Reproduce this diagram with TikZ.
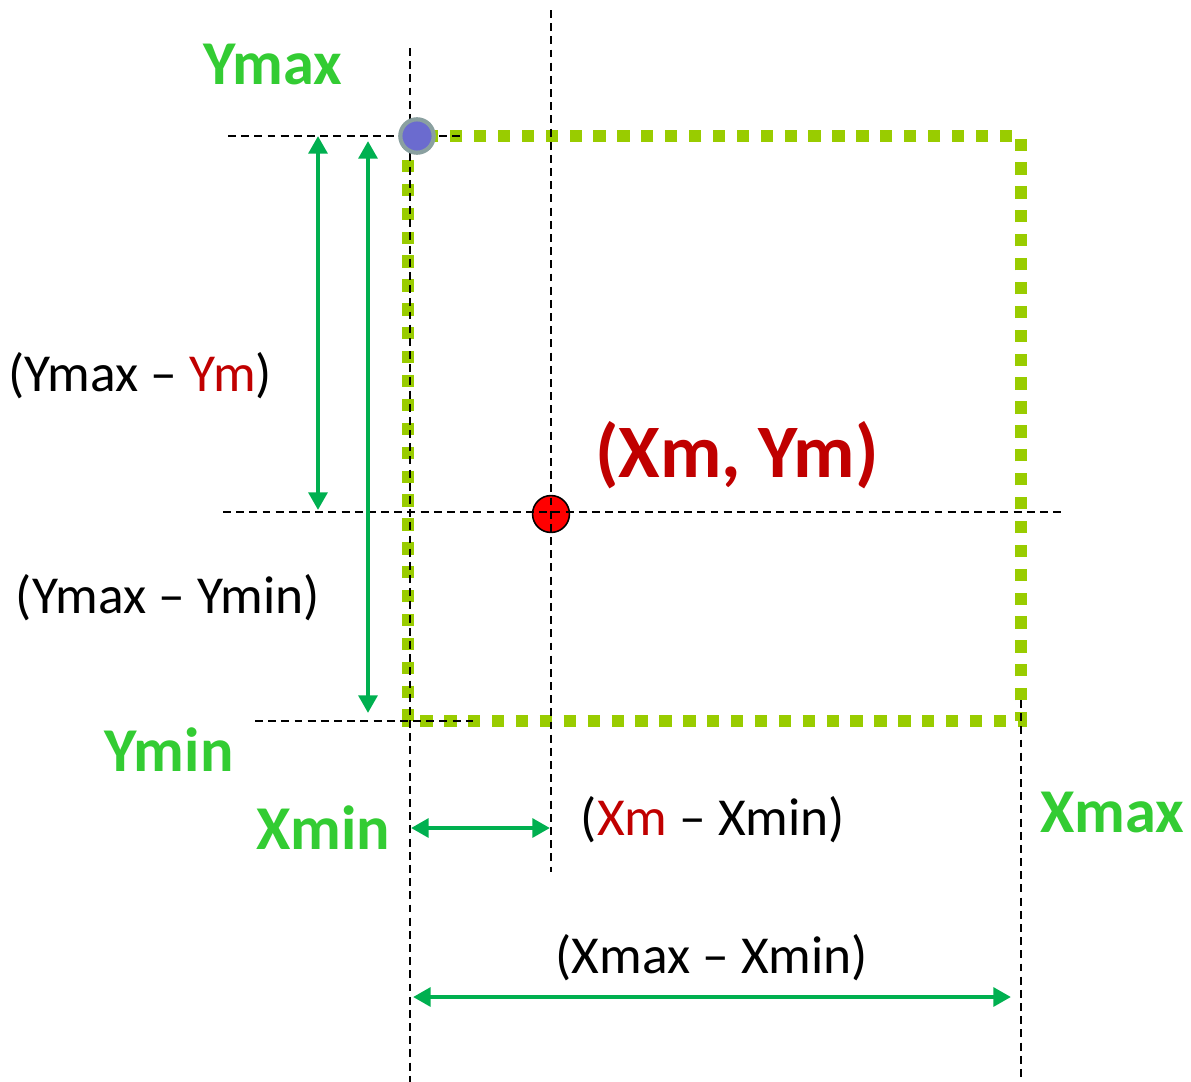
\documentclass[tikz,border=0pt]{standalone}
\usepackage{fontspec}
\setmainfont{Carlito}
\usepackage{xcolor}
\usepackage{tikz}
\usetikzlibrary{arrows.meta}
\definecolor{Bound}{RGB}{153, 204, 0}
\definecolor{LimitText}{RGB}{51, 204, 51}
\definecolor{Measure}{RGB}{0, 176, 80}
\definecolor{Centre}{RGB}{192, 0, 0}
\definecolor{CornerFill}{RGB}{107, 107, 207}
\definecolor{CornerRing}{RGB}{138, 160, 160}

\begin{document}
\begin{tikzpicture}[
    x=0.02cm, y=-0.02cm,
    box/.style={Bound, line width=7pt, dash pattern=on 7pt off 6.6pt},
    guide/.style={black, line width=0.9pt, dash pattern=on 4.5pt off 3pt},
    measure/.style={{Triangle[length=10pt, width=10.5pt]}-{Triangle[length=10pt, width=10.5pt]}, Measure, line width=2.8pt},
    limit/.style={font=\fontsize{35.5}{42}\selectfont\bfseries, text=LimitText, inner sep=0pt},
    diff/.style={font=\fontsize{30.4}{36}\selectfont, text=black, inner sep=0pt},
    topleft/.style={circle, fill=CornerFill, draw=CornerRing, line width=2.4pt, minimum size=19pt, inner sep=0pt},
    midpt/.style={circle, fill=red, draw=black, line width=0.9pt, minimum size=21pt, inner sep=0pt},
]
\useasboundingbox (0,0) rectangle (1191,1082);

% bounding box
\draw[box] (408,136) rectangle (1021,721);

\node[midpt] (mid) at (551,514) {};

% guide lines
\draw[guide] (410,48) -- (410,1082);
\draw[guide] (551,10) -- (551,872);
\draw[guide] (1021,700) -- (1021,1082);
\draw[guide] (228,136) -- (465,136);
\draw[guide] (223,512) -- (1065,512);
\draw[guide] (255,721) -- (473,721);

\node[topleft] (corner) at (417,136) {};

% measures
\coordinate (ymaxA) at (318,136);
\coordinate (ymA) at (318,510);
\coordinate (ymaxB) at (368,141);
\coordinate (yminB) at (368,713);
\coordinate (xminA) at (411,828);
\coordinate (xmA) at (550,828);
\coordinate (xminB) at (413,997);
\coordinate (xmaxB) at (1011,997);
\draw[measure] (ymaxA) -- (ymA);
\draw[measure] (ymaxB) -- (yminB);
\draw[measure] (xminA) -- (xmA);
\draw[measure] (xminB) -- (xmaxB);

% labels
\node[limit] (ymax) at (273,65) {Ymax};
\node[limit] (ymin) at (169,750) {Ymin};
\node[limit] (xmin) at (323,828) {Xmin};
\node[limit] (xmax) at (1112,812) {Xmax};
\node[font=\fontsize{43}{50}\selectfont\bfseries, text=Centre, inner sep=0pt] (mlabel) at (737,455) {(Xm, Ym)};
\node[diff] (dym) at (140,376) {(Ymax \textendash{} \textcolor{Centre}{Ym})};
\node[diff] (dy) at (168,598) {(Ymax \textendash{} Ymin)};
\node[diff] (dxm) at (713,820) {(\textcolor{Centre}{Xm} \textendash{} Xmin)};
\node[diff] (dx) at (712,958) {(Xmax \textendash{} Xmin)};
\end{tikzpicture}
\end{document}
